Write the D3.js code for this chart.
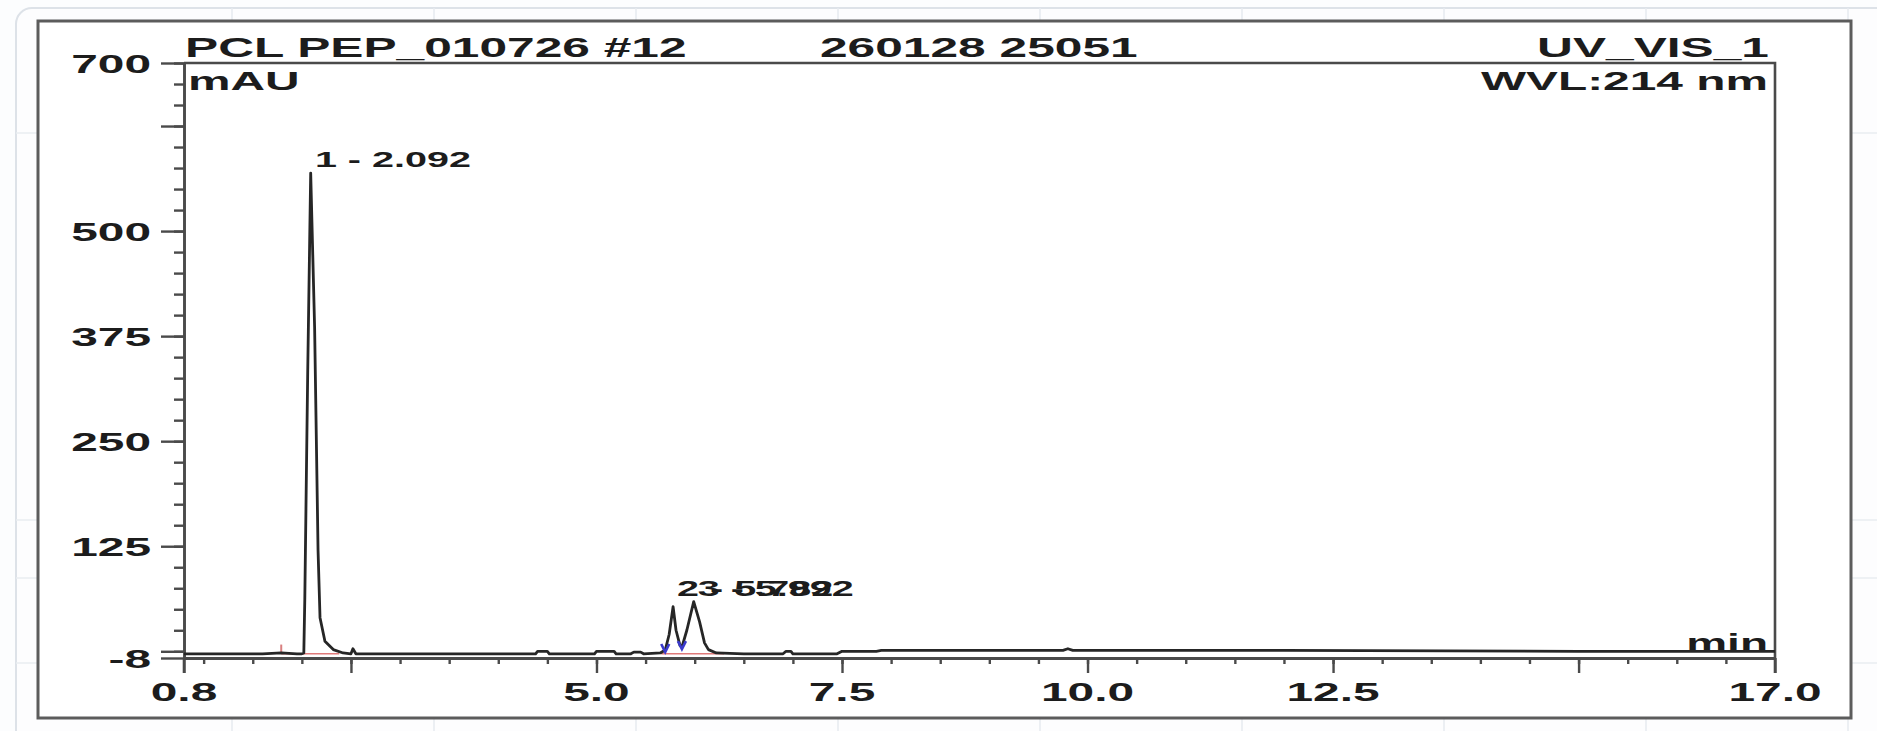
<!DOCTYPE html>
<html>
<head>
<meta charset="utf-8">
<script src="https://cdn.jsdelivr.net/npm/d3@7"></script>
<style>
  html, body { margin: 0; padding: 0; background: #fcfdfe; }
  svg { display: block; }
  text { font-family: "Liberation Sans", Arial, sans-serif; font-weight: bold; fill: #1c1c1c; }
</style>
</head>
<body>
<svg id="chrom" width="1877" height="731"></svg>
<script>
// chromatogram trace (min, mAU)
const retTime = [0.80, 1.20, 1.60, 1.79, 1.95, 2.00, 2.02, 2.03, 2.06, 2.09, 2.13, 2.165, 2.185, 2.235, 2.32, 2.42,
  2.50, 2.52, 2.55, 3.00, 3.50, 4.00, 4.38, 4.40, 4.50, 4.52, 4.98, 5.00, 5.18, 5.20, 5.35, 5.38, 5.45, 5.48,
  5.65, 5.70, 5.74, 5.78, 5.81, 5.85, 5.87, 5.92, 5.99, 6.05, 6.10, 6.14, 6.22, 6.50, 6.90, 6.93, 6.98, 7.00,
  7.45, 7.50, 7.85, 7.90, 9.75, 9.80, 9.85, 12.0, 15.0, 17.0];
const signal = [-3, -3, -3, -2, -3, -3, -2, 62, 335, 569, 385, 120, 40, 12, 2, -2,
  -3, 3, -3, -3, -3, -3, -3, 0, 0, -3, -3, 0, 0, -3, -3, -1, -1, -3,
  -2, 1.5, 20, 53, 25, 7, 5, 25, 59, 35, 10, 2, -2, -3, -3, 0, 0, -3,
  -3, 0, 0, 1, 1, 3, 1, 1, 0, 0];

// peak annotations
const peakLabels = ["1 - 2.092", "2 - 5.782", "3 - 5.992"];
const peakTimes = [2.092, 5.78, 5.99];
const peakHeights = [569, 53, 59];

// peak delimiters and baselines
const delimTimes = [5.70, 5.87];
const delimValues = [1.5, 5];
const baseStart = [1.79, 5.66];
const baseEnd = [2.38, 6.30];

// axis ticks
const yMajor = [-8, 0, 125, 250, 375, 500, 625, 700];
const yLabels = [-8, 125, 250, 375, 500, 700];
const xMajor = [0.8, 2.5, 5.0, 7.5, 10.0, 12.5, 15.0, 17.0];
const xLabels = [0.8, 5.0, 7.5, 10.0, 12.5, 17.0];

const SX = 1.84; // the source picture is stretched sideways
const svg = d3.select("#chrom");

// faint page grid behind the frame
const bg = svg.append("g");
bg.append("rect").attr("x", 16).attr("y", 8).attr("width", 1900).attr("height", 760)
  .attr("rx", 16).attr("fill", "#fdfdfe").attr("stroke", "#dde2e8").attr("stroke-width", 2);
d3.range(232, 1877, 202).forEach(x => {
  bg.append("line").attr("x1", x).attr("x2", x).attr("y1", 8).attr("y2", 731)
    .attr("stroke", "#e6eaef").attr("stroke-width", 1.5);
});
[133, 520, 578, 663].forEach(y => {
  bg.append("line").attr("x1", 16).attr("x2", 1877).attr("y1", y).attr("y2", y)
    .attr("stroke", "#e8ecf0").attr("stroke-width", 1.5);
});

// outer frame
svg.append("rect").attr("x", 38).attr("y", 21).attr("width", 1813).attr("height", 697)
  .attr("fill", "#fff").attr("stroke", "#5c5c5c").attr("stroke-width", 3);

const x = d3.scaleLinear().domain([0.8, 17.0]).range([184, 1775]);
const y = d3.scaleLinear().domain([-8, 700]).range([658, 63]);

function label(g, px, py, str, size, anchor) {
  return g.append("text")
    .attr("transform", `translate(${px},${py}) scale(${SX},1)`)
    .attr("text-anchor", anchor)
    .style("font-size", size + "px")
    .text(str);
}

const axisCol = "#4a4a4a";

// plot box top and right
svg.append("path")
  .attr("d", `M${x(0.8)},${y(700)}H${x(17)}V${y(-8) + 15}`)
  .attr("fill", "none").attr("stroke", axisCol).attr("stroke-width", 2.6);

// y axis
const yMinorAxis = d3.axisLeft(y).tickValues(d3.range(0, 701, 25)).tickSize(10).tickSizeOuter(0).tickFormat("");
const yMajorAxis = d3.axisLeft(y).tickValues(yMajor).tickSize(23).tickSizeOuter(0).tickFormat("");
[yMinorAxis, yMajorAxis].forEach(ax => {
  const g = svg.append("g").attr("transform", `translate(${x(0.8)},0)`).call(ax);
  g.selectAll("line").attr("stroke", axisCol).attr("stroke-width", 2.4);
  g.select(".domain").attr("stroke", axisCol).attr("stroke-width", 2.6);
});
svg.append("line").attr("x1", x(0.8)).attr("x2", x(0.8)).attr("y1", y(-8)).attr("y2", y(-8) + 15)
  .attr("stroke", axisCol).attr("stroke-width", 2.6);
yLabels.forEach(v => label(svg, 151, y(v) + 9.5, v, 26, "end"));

// x axis
const xMinorAxis = d3.axisBottom(x).tickValues(d3.range(1.0, 17.0, 0.5)).tickSize(6).tickSizeOuter(0).tickFormat("");
const xMajorAxis = d3.axisBottom(x).tickValues(xMajor).tickSize(15).tickSizeOuter(0).tickFormat("");
[xMinorAxis, xMajorAxis].forEach(ax => {
  const g = svg.append("g").attr("transform", `translate(0,${y(-8)})`).call(ax);
  g.selectAll("line").attr("stroke", axisCol).attr("stroke-width", 2.4);
  g.select(".domain").attr("stroke", axisCol).attr("stroke-width", 2.8);
});
xLabels.forEach(v => label(svg, x(v), 701, v.toFixed(1), 26, "middle"));

// header texts
label(svg, 185, 57, "PCL PEP_010726 #12", 27, "start");
label(svg, 820, 57, "260128 25051", 27, "start");
label(svg, 1769, 57, "UV_VIS_1", 27, "end");
label(svg, 188, 90, "mAU", 26, "start");
label(svg, 1768, 90, "WVL:214 nm", 26, "end");
label(svg, 1768, 652, "min", 25, "end");

// integration baselines
baseStart.forEach((t, i) => {
  svg.append("line").attr("x1", x(t)).attr("x2", x(baseEnd[i])).attr("y1", y(-3)).attr("y2", y(-3))
    .attr("stroke", "#e07a7a").attr("stroke-width", 1.6);
});
svg.append("line").attr("x1", x(1.79)).attr("x2", x(1.79)).attr("y1", y(-3)).attr("y2", y(8))
  .attr("stroke", "#d98080").attr("stroke-width", 2);

// trace
const trace = d3.line().x((d, i) => x(retTime[i])).y(d => y(d));
svg.append("path").datum(signal).attr("d", trace)
  .attr("fill", "none").attr("stroke", "#262626").attr("stroke-width", 2.8)
  .attr("stroke-linejoin", "round");

// peak delimiters
delimTimes.forEach((t, i) => {
  svg.append("path")
    .attr("d", `M${x(t) - 4},${y(delimValues[i]) - 6}L${x(t)},${y(delimValues[i]) + 2}L${x(t) + 4},${y(delimValues[i]) - 6}`)
    .attr("fill", "none").attr("stroke", "#3a3acc").attr("stroke-width", 2.6);
});

// peak labels: peaks that sit close together share one label line
peakLabels.forEach((s, i) => {
  let top = y(peakHeights[i]);
  peakTimes.forEach((t, j) => {
    if (Math.abs(t - peakTimes[i]) < 0.5) top = Math.min(top, y(peakHeights[j]));
  });
  label(svg, x(peakTimes[i]) + 4, top - 6, s, 21.5, "start");
});
</script>
</body>
</html>
